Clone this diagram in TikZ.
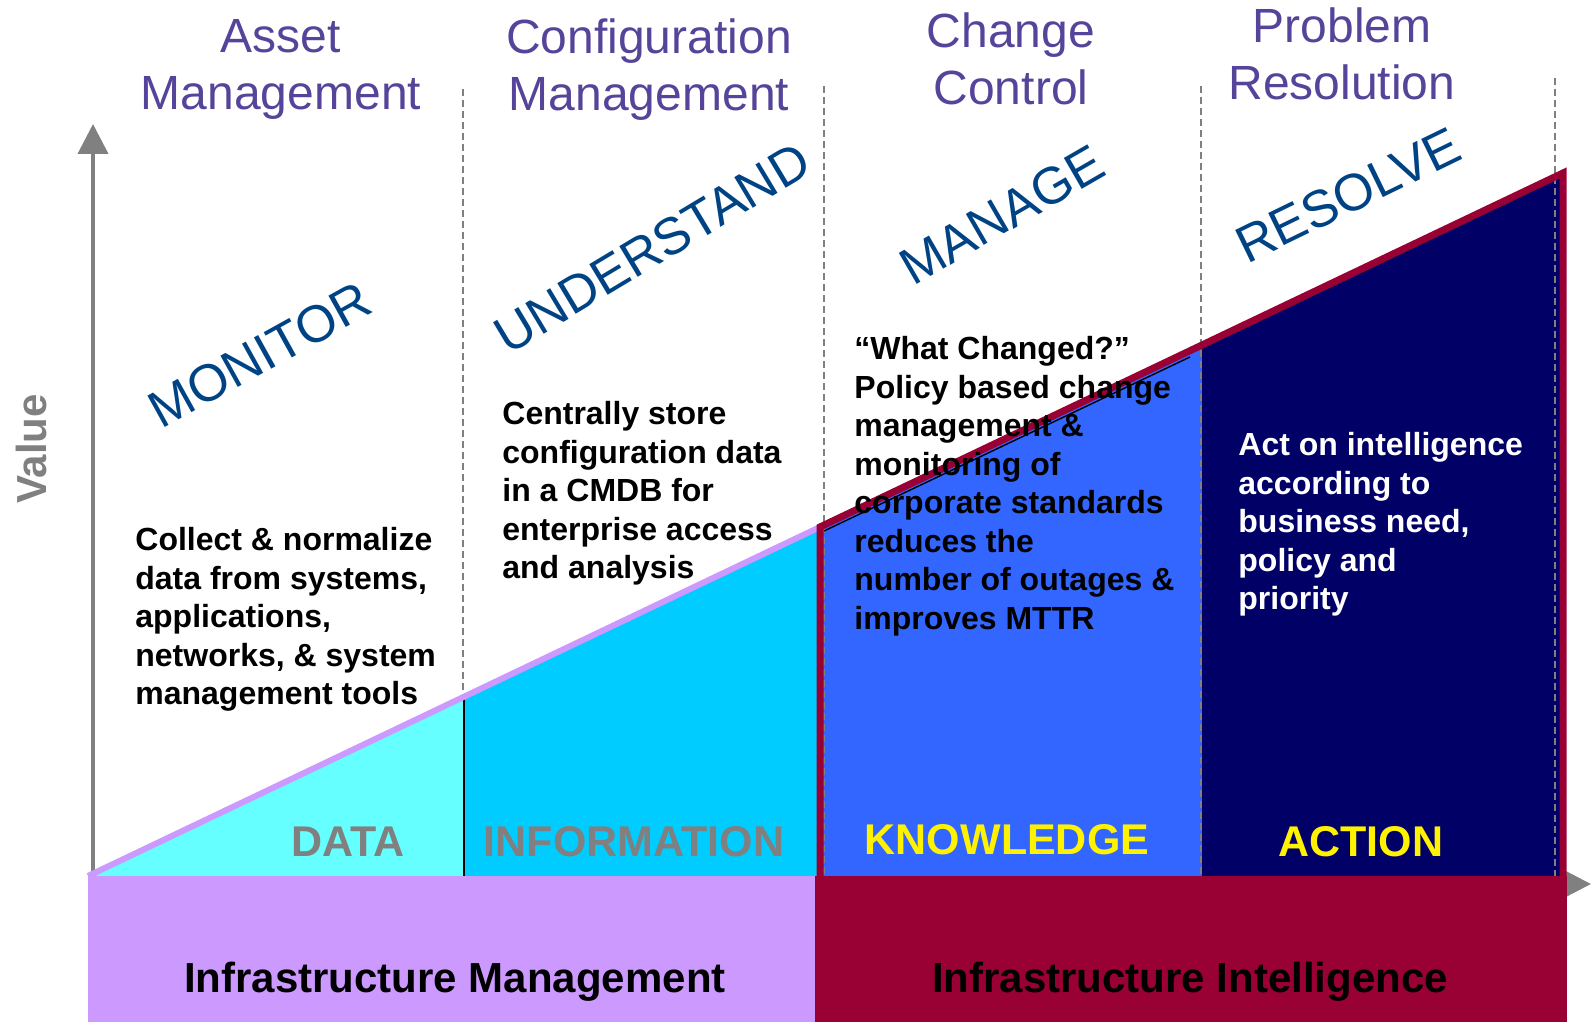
\documentclass[tikz,border=0pt]{standalone}
\usepackage{fontspec}
\setmainfont{Liberation Sans}
\usetikzlibrary{arrows.meta}
\definecolor{headc}{HTML}{554499}
\definecolor{verbc}{HTML}{004385}
\definecolor{axisc}{HTML}{808080}
\definecolor{datac}{HTML}{66FFFF}
\definecolor{infoc}{HTML}{00CCFF}
\definecolor{knowc}{HTML}{3366FF}
\definecolor{actc}{HTML}{000066}
\definecolor{lilac}{HTML}{CC99FF}
\definecolor{wine}{HTML}{990033}
\begin{document}
\begin{tikzpicture}[x=0.5pt,y=-0.5pt,
  heading/.style={font=\fontsize{24}{28.5}\selectfont, text=headc, align=center, inner sep=0pt, anchor=north},
  verb/.style={font=\fontsize{26}{30}\selectfont, text=verbc, inner sep=0pt},
  body/.style={font=\fontsize{16}{19.25}\selectfont\bfseries, align=left, inner sep=0pt, anchor=north west},
  stage/.style={font=\fontsize{21.5}{24}\selectfont\bfseries, inner sep=0pt},
  bandlabel/.style={font=\fontsize{21}{24}\selectfont\bfseries, inner sep=0pt, anchor=base},
  divider/.style={draw=axisc, line width=1pt, dash pattern=on 3.5pt off 2pt},
  axisline/.style={draw=axisc, line width=2pt, -{Triangle[length=15pt,width=15pt]}},
]
\useasboundingbox (0,0) rectangle (1591,1022);

% key coordinates
\coordinate (O) at (88,876);
\coordinate (P1) at (464,697);
\coordinate (P2) at (820,527);
\coordinate (P3) at (1202,345);
\coordinate (P4) at (1563,173);
\coordinate (B1) at (464,876);
\coordinate (B2) at (820,876);
\coordinate (B3) at (1202,876);
\coordinate (B4) at (1563,876);

% axes
\coordinate (ya) at (93,876);
\coordinate (yb) at (93,124);
\coordinate (xa) at (88,884);
\coordinate (xb) at (1591,884);
\draw[axisline] (ya) -- (yb);
\draw[axisline] (xa) -- (xb);

% first divider (behind the fill)
\coordinate (d1t) at (463,89);
\coordinate (d1b) at (463,697);
\draw[divider] (d1t) -- (d1b);

% fills
\fill[datac] (O) -- (P1) -- (B1) -- cycle;
\fill[infoc] (P1) -- (P2) -- (B2) -- (B1) -- cycle;
\fill[knowc] (P2) -- (P3) -- (B3) -- (B2) -- cycle;
\fill[actc] (P3) -- (P4) -- (B4) -- (B3) -- cycle;

% other dividers
\coordinate (d2t) at (824,86);
\coordinate (d2b) at (824,876);
\coordinate (d3t) at (1201,86);
\coordinate (d3b) at (1201,876);
\coordinate (d4t) at (1555,78);
\coordinate (d4b) at (1555,876);
\draw[divider] (d2t) -- (d2b);
\draw[divider] (d3t) -- (d3b);
\draw[divider] (d4t) -- (d4b);

% black separator
\draw[black, line width=0.75pt] (P1) -- (B1);

% diagonal edges
\draw[lilac, line width=3pt] (O) -- (P2);
\draw[wine, line width=3.5pt, line join=miter] (B2) -- (P2) -- (P4) -- (B4);
\coordinate (k1) at (824,531);
\coordinate (k2) at (1190,357);
\draw[black, line width=0.7pt] (k1) -- (k2);

% bottom bands
\fill[lilac] (88,876) rectangle (815,1022);
\fill[wine] (815,876) rectangle (1567,1022);

% headings
\node[heading] (h1) at (281,19) {Asset\\Management};
\node[heading] (h2) at (649,18) {Configuration\\Management};
\node[heading] (h3) at (1011,12) {Change\\Control};
\node[heading] (h4) at (1342,7) {Problem\\Resolution};

% rotated verbs
\node[verb, rotate=29] (v1) at (260,355) {MONITOR};
\node[verb, rotate=31] (v2) at (652,248) {UNDERSTAND};
\node[verb, rotate=30] (v3) at (1002,215) {MANAGE};
\node[verb, rotate=26] (v4) at (1348,195) {RESOLVE};

% body texts
\node[body] (t1) at (135,527) {Collect \& normalize\\data from systems,\\applications,\\networks, \& system\\management tools};
\node[body] (t2) at (502,401) {Centrally store\\configuration data\\in a CMDB for\\enterprise access\\and analysis};
\node[body] (t3) at (854,336) {“What Changed?”\\Policy based change\\management \&\\monitoring of\\corporate standards\\reduces the\\number of outages \&\\improves MTTR};
\node[body, text=white] (t4) at (1238,432) {Act on intelligence\\according to\\business need,\\policy and\\priority};

% stage labels
\node[stage, text=axisc] (s1) at (348,842) {DATA};
\node[stage, text=axisc] (s2) at (634,842) {INFORMATION};
\node[stage, text=yellow] (s3) at (1007,840) {KNOWLEDGE};
\node[stage, text=yellow] (s4) at (1361,842) {ACTION};

% band labels
\node[bandlabel] (bl1) at (455,992) {Infrastructure Management};
\node[bandlabel] (bl2) at (1190,992) {Infrastructure Intelligence};

% axis label
\node[font=\fontsize{21}{24}\selectfont\bfseries, text=axisc, rotate=90, inner sep=0pt] (val) at (31,449) {Value};
\end{tikzpicture}
\end{document}
